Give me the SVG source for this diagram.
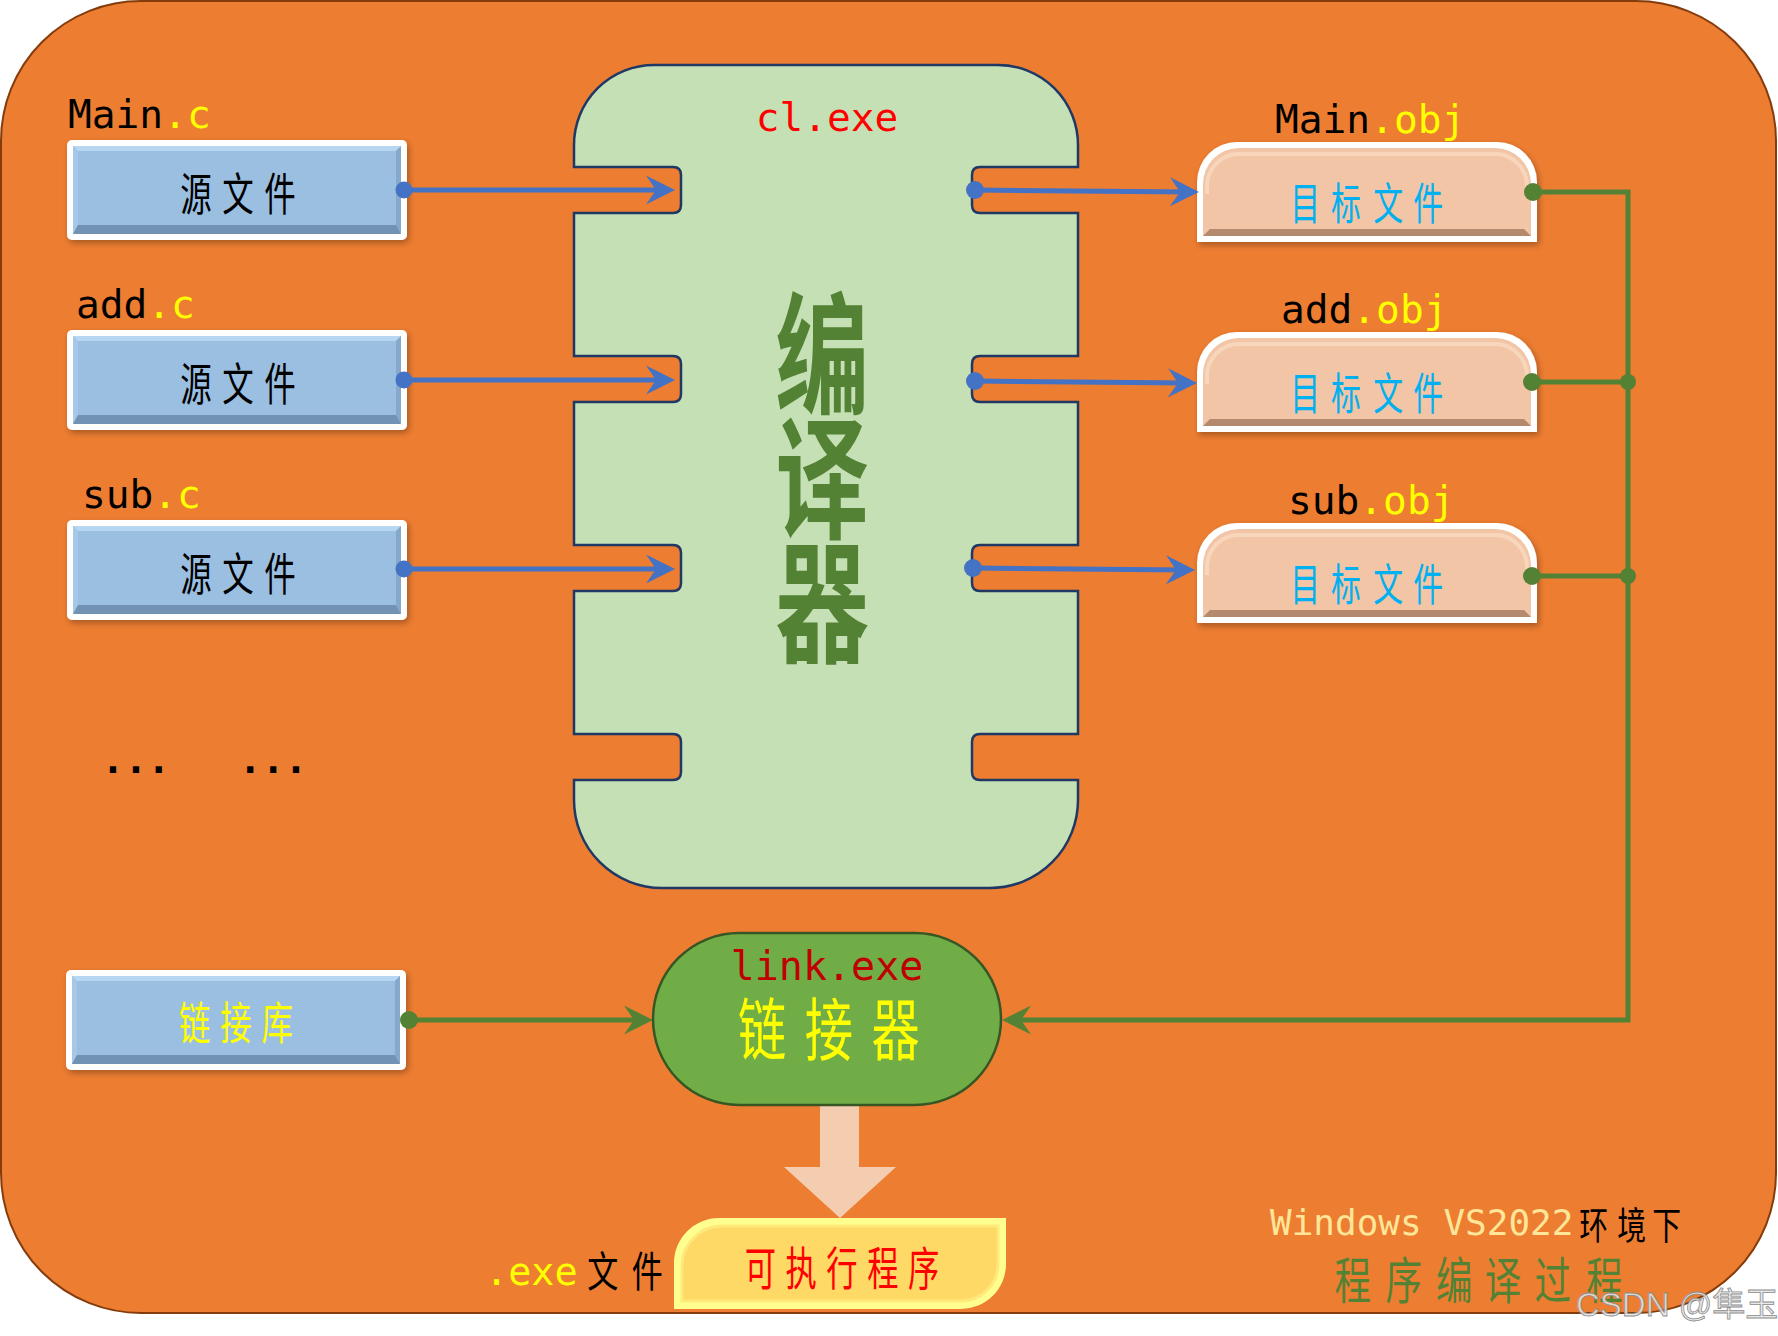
<svg xmlns="http://www.w3.org/2000/svg" width="1778" height="1336" viewBox="0 0 1778 1336">
<style>
.mono{font-family:"DejaVu Sans Mono","Liberation Mono",monospace}
.cjk{font-family:"Noto Sans CJK SC","Noto Sans",sans-serif;text-anchor:middle}
.blue{stroke:#4472C4;stroke-width:5;fill:none}
.green{stroke:#548235;stroke-width:5;fill:none}
.bdot{fill:#4472C4}
.gdot{fill:#548235}
</style>
<defs>
<filter id="sh" x="-10%" y="-10%" width="120%" height="130%">
<feDropShadow dx="2" dy="3" stdDeviation="3" flood-color="#000" flood-opacity="0.3"/>
</filter>
<marker id="ab" markerUnits="userSpaceOnUse" markerWidth="30" markerHeight="30" viewBox="0 0 30 30" refX="21" refY="15" orient="auto">
<path d="M0,0.5 L29,15 L0,29.5 L10,15 Z" fill="#4472C4"/>
</marker>
<marker id="ag" markerUnits="userSpaceOnUse" markerWidth="30" markerHeight="30" viewBox="0 0 30 30" refX="21" refY="15" orient="auto">
<path d="M0,0.5 L29,15 L0,29.5 L10,15 Z" fill="#548235"/>
</marker>
<g id="srcShape">
<rect width="340" height="100" rx="5" fill="#fff"/>
<rect x="6" y="6" width="328" height="88" fill="#9BBFE1"/>
<polygon points="6,6 334,6 329,11 11,11" fill="#B7D6F2"/>
<polygon points="6,6 11,11 11,85 6,94" fill="#A6C7E7"/>
<polygon points="334,6 334,94 329,85 329,11" fill="#86A9CB"/>
<polygon points="6,94 11,85 329,85 334,94" fill="#7192B2"/>
</g>
<g id="objShape">
<path d="M0,100 V40 A40,40 0 0 1 40,0 H300 A40,40 0 0 1 340,40 V100 Z" fill="#fff"/>
<path d="M6,94 V42 A36,36 0 0 1 42,6 H298 A36,36 0 0 1 334,42 V94 Z" fill="#F1C5A6"/>
<path d="M10,52 V44 A32,32 0 0 1 42,12 H298 A32,32 0 0 1 330,44 V52" fill="none" stroke="#F8D6BC" stroke-width="4"/>
<polygon points="6,94 13,87 327,87 334,94" fill="#B38A6E"/>
</g>
</defs>

<rect id="background" x="1" y="1" width="1775" height="1312" rx="140" fill="#ED7D31" stroke="#843C0C" stroke-width="2"/>

<g id="compiler">
<path d="M574,145 A80,80 0 0 1 654,65 L998,65 A80,80 0 0 1 1078,145 L1078,167 L980,167 Q972,167 972,175 L972,205 Q972,213 980,213 L1078,213 L1078,356 L980,356 Q972,356 972,364 L972,394 Q972,402 980,402 L1078,402 L1078,545 L980,545 Q972,545 972,553 L972,583 Q972,591 980,591 L1078,591 L1078,734 L980,734 Q972,734 972,742 L972,772 Q972,780 980,780 L1078,780 L1078,800 A88,88 0 0 1 990,888 L662,888 A88,88 0 0 1 574,800 L574,780 L673,780 Q681,780 681,772 L681,742 Q681,734 673,734 L574,734 L574,591 L673,591 Q681,591 681,583 L681,553 Q681,545 673,545 L574,545 L574,402 L673,402 Q681,402 681,394 L681,364 Q681,356 673,356 L574,356 L574,213 L673,213 Q681,213 681,205 L681,175 Q681,167 673,167 L574,167 Z" fill="#C5E0B4" stroke="#1F3864" stroke-width="2.5"/>
<text class="mono" x="827" y="131" font-size="39.5" text-anchor="middle" fill="#FF0000">cl.exe</text>
<text class="cjk" transform="translate(822,0) scale(0.71,1)" x="0 0 0" y="404 528 652" font-size="132" font-weight="700" fill="#548235">编译器</text>
</g>

<g id="src-main">
<text class="mono" x="68" y="128" font-size="39.5"><tspan fill="#000">Main</tspan><tspan fill="#FFFF00">.c</tspan></text>
<use href="#srcShape" x="67" y="140" filter="url(#sh)"/>
<text class="cjk" transform="translate(238,211) scale(0.7,1)" x="-60 0 60" y="0" font-size="45" fill="#000">源文件</text>
</g>
<g id="src-add">
<text class="mono" x="76" y="318" font-size="39.5"><tspan fill="#000">add</tspan><tspan fill="#FFFF00">.c</tspan></text>
<use href="#srcShape" x="67" y="330" filter="url(#sh)"/>
<text class="cjk" transform="translate(238,401) scale(0.7,1)" x="-60 0 60" y="0" font-size="45" fill="#000">源文件</text>
</g>
<g id="src-sub">
<text class="mono" x="82" y="508" font-size="39.5"><tspan fill="#000">sub</tspan><tspan fill="#FFFF00">.c</tspan></text>
<use href="#srcShape" x="67" y="520" filter="url(#sh)"/>
<text class="cjk" transform="translate(238,591) scale(0.7,1)" x="-60 0 60" y="0" font-size="45" fill="#000">源文件</text>
</g>
<g id="ellipsis">
<text x="101.5" y="773" font-family="DejaVu Sans Mono, monospace" font-size="38" font-weight="700" fill="#000" xml:space="preserve">...   ...</text>
</g>
<g id="lib">
<use href="#srcShape" x="66" y="970" filter="url(#sh)"/>
<text class="cjk" transform="translate(236,1040) scale(0.7,1)" x="-59 0 59" y="0" font-size="45" fill="#FFFF00">链接库</text>
</g>

<g id="obj-main">
<text class="mono" x="1275" y="133" font-size="39.5"><tspan fill="#000">Main</tspan><tspan fill="#FFFF00">.obj</tspan></text>
<use href="#objShape" x="1197" y="142" filter="url(#sh)"/>
<text class="cjk" transform="translate(1367,220) scale(0.68,1)" x="-91 -31 31 90" y="0" font-size="44" fill="#00B0F0">目标文件</text>
</g>
<g id="obj-add">
<text class="mono" x="1281" y="323" font-size="39.5"><tspan fill="#000">add</tspan><tspan fill="#FFFF00">.obj</tspan></text>
<use href="#objShape" x="1197" y="332" filter="url(#sh)"/>
<text class="cjk" transform="translate(1367,410) scale(0.68,1)" x="-91 -31 31 90" y="0" font-size="44" fill="#00B0F0">目标文件</text>
</g>
<g id="obj-sub">
<text class="mono" x="1288" y="514" font-size="39.5"><tspan fill="#000">sub</tspan><tspan fill="#FFFF00">.obj</tspan></text>
<use href="#objShape" x="1197" y="523" filter="url(#sh)"/>
<text class="cjk" transform="translate(1367,601) scale(0.68,1)" x="-91 -31 31 90" y="0" font-size="44" fill="#00B0F0">目标文件</text>
</g>

<g id="connectors">
<line class="blue" x1="404" y1="190" x2="667" y2="190" marker-end="url(#ab)"/>
<line class="blue" x1="404" y1="380" x2="667" y2="380" marker-end="url(#ab)"/>
<line class="blue" x1="404" y1="569" x2="667" y2="569" marker-end="url(#ab)"/>
<circle class="bdot" cx="404" cy="190" r="8.5"/>
<circle class="bdot" cx="404" cy="380" r="8.5"/>
<circle class="bdot" cx="404" cy="569" r="8.5"/>
<line class="blue" x1="975" y1="190" x2="1191" y2="192" marker-end="url(#ab)"/>
<line class="blue" x1="975" y1="381" x2="1189" y2="383" marker-end="url(#ab)"/>
<line class="blue" x1="973" y1="568" x2="1187" y2="570" marker-end="url(#ab)"/>
<circle class="bdot" cx="975" cy="190" r="9"/>
<circle class="bdot" cx="975" cy="381" r="9"/>
<circle class="bdot" cx="973" cy="568" r="9"/>
<polyline class="green" points="1533,192 1628,192 1628,1020 1010,1020" marker-end="url(#ag)"/>
<line class="green" x1="1532" y1="382" x2="1628" y2="382"/>
<line class="green" x1="1532" y1="576" x2="1628" y2="576"/>
<circle class="gdot" cx="1533" cy="192" r="9"/>
<circle class="gdot" cx="1532" cy="382" r="9"/>
<circle class="gdot" cx="1532" cy="576" r="9"/>
<circle class="gdot" cx="1628" cy="382" r="8"/>
<circle class="gdot" cx="1628" cy="576" r="8"/>
<line class="green" x1="409" y1="1020" x2="645" y2="1020" marker-end="url(#ag)"/>
<circle class="gdot" cx="409" cy="1020" r="9"/>
<polygon points="820,1105 859,1105 859,1167 896,1167 840,1218 784,1167 820,1167" fill="#F4CDB1"/>
</g>

<g id="linker">
<rect x="653" y="933" width="348" height="172" rx="86" fill="#70AD47" stroke="#375623" stroke-width="2.5"/>
<text class="mono" x="827" y="980" font-size="40" text-anchor="middle" fill="#C00000">link.exe</text>
<text class="cjk" transform="translate(829,1055) scale(0.71,1)" x="-94 0 94" y="0" font-size="68" fill="#FFFF00">链接器</text>
</g>

<g id="exe">
<path d="M719,1218 L1006,1218 L1006,1264 A45,45 0 0 1 961,1309 L674,1309 L674,1263 A45,45 0 0 1 719,1218 Z" fill="#FFFF8F"/>
<path d="M722,1226 L998,1226 L998,1264 A37,37 0 0 1 961,1301 L682,1301 L682,1266 A40,40 0 0 1 722,1226 Z" fill="#FFD966" stroke="#FFE97A" stroke-width="3"/>
<text class="cjk" transform="translate(842,1285) scale(0.68,1)" x="-120 -60 0 60 120" y="0" font-size="46" fill="#FF0000">可执行程序</text>
<text class="mono" x="485" y="1285" font-size="38.5" fill="#FFFF00">.exe</text>
<text class="cjk" transform="translate(625,1287) scale(0.74,1)" x="-30 30" y="0" font-size="42" fill="#000">文件</text>
</g>

<g id="caption">
<text class="mono" x="1270" y="1235" font-size="36" fill="#FFE699">Windows VS2022</text>
<text class="cjk" transform="translate(1631,1239) scale(0.76,1)" x="-49 1 47" y="0" font-size="38" fill="#000">环境下</text>
<text class="cjk" transform="translate(1479,1299) scale(0.73,1)" x="-173 -103 -34 33 101 172" y="0" font-size="50" fill="#548235">程序编译过程</text>
</g>

<text id="watermark" x="1576" y="1316" font-family="Liberation Sans, Noto Sans CJK SC, sans-serif" font-size="33" fill="#E6E6E6" stroke="#8C8C8C" stroke-width="0.8" fill-opacity="0.85">CSDN @隼玉</text>
</svg>
